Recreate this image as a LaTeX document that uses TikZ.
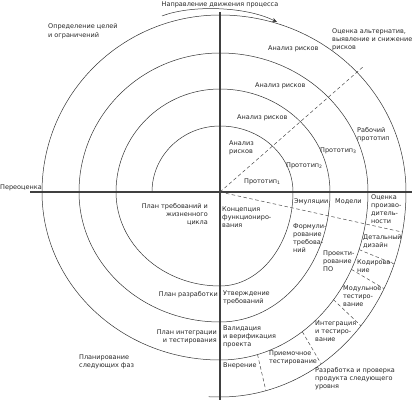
\documentclass[tikz,border=0pt]{standalone}
\usepackage{fontspec}
\setmainfont{DejaVu Sans}
\usetikzlibrary{arrows.meta}
\begin{document}
\begin{tikzpicture}[x=1pt,y=1pt,
  lbl/.style={font=\fontsize{6.5}{8.3}\selectfont, inner sep=0pt, align=left, anchor=base west, text=black!85},
  lblr/.style={font=\fontsize{6.5}{8.3}\selectfont, inner sep=0pt, align=right, anchor=base east, text=black!85},
  spir/.style={line width=0.5pt, black!80},
  axisline/.style={line width=1.1pt, black!75},
  dsh/.style={line width=0.5pt, black!70, dash pattern=on 3.5pt off 2.5pt}]
\useasboundingbox (0,0) rectangle (412,400);
\coordinate (C) at (220,208);
% axes
\coordinate (hl) at (30,208);  \coordinate (hr) at (412,208);
\coordinate (vt) at (220,388); \coordinate (vb) at (220,0);
\draw[axisline] (hl) -- (hr);
\draw[axisline] (vt) -- (vb);
% spiral
\draw[spir] (152,208)
  arc[start angle=180,end angle=90,x radius=68pt,y radius=66pt]
  arc[start angle=90,end angle=0,x radius=73pt,y radius=66pt]
  arc[start angle=0,end angle=-90,x radius=73pt,y radius=94pt]
  arc[start angle=-90,end angle=-180,x radius=104pt,y radius=94pt]
  arc[start angle=180,end angle=90,x radius=104pt,y radius=103pt]
  arc[start angle=90,end angle=0,x radius=110pt,y radius=103pt]
  arc[start angle=0,end angle=-90,x radius=110pt,y radius=130pt]
  arc[start angle=-90,end angle=-180,x radius=141pt,y radius=130pt]
  arc[start angle=180,end angle=90,x radius=141pt,y radius=139pt]
  arc[start angle=90,end angle=0,x radius=148pt,y radius=139pt]
  arc[start angle=0,end angle=-90,x radius=148pt,y radius=168pt]
  arc[start angle=-90,end angle=-180,x radius=178pt,y radius=168pt]
  arc[start angle=180,end angle=90,x radius=178pt,y radius=177pt]
  arc[start angle=90,end angle=0,x radius=186pt,y radius=177pt]
  arc[start angle=0,end angle=-90,x radius=186pt,y radius=205pt]
  arc[start angle=-90,end angle=-93,x radius=215pt,y radius=205pt];
% direction arrow
\coordinate (ar0) at (162,384); \coordinate (ar1) at (277,378);
\draw[spir, -{Stealth[length=5pt,width=4pt]}] (ar0) .. controls (190,395) and (245,394) .. (ar1);
% dashed lines
\coordinate (d1) at (364,334); \coordinate (d2) at (402,168);
\draw[dsh] (C) -- (d1);
\draw[dsh] (C) -- (d2);
\draw[dsh] (359,150.4) -- (394,136);
\draw[dsh] (351.4,130.6) -- (384,111.4);
\draw[dsh] (333.5,100.3) -- (360.9,74.2);
\draw[dsh] (302.3,68.3) -- (321.2,36.1);
\draw[dsh] (257.5,45.5) -- (265.9,9.3);
% labels (anchor = baseline of the last line)
\node[lbl, anchor=base] (t0) at (220,393) {Направление движения процесса};
\node[lbl] (t1) at (48,362.7) {Определение целей\\и ограничений};
\node[lbl] (t2) at (332,350.4) {Оценка альтернатив,\\выявление и снижение\\рисков};
\node[lbl] (t3) at (268,349) {Анализ рисков};
\node[lbl] (t4) at (255,313) {Анализ рисков};
\node[lbl] (t5) at (237,280.5) {Анализ рисков};
\node[lbl] (t6) at (229,246.7) {Анализ\\рисков};
\node[lbl] (t7) at (244,217) {Прототип\textsubscript{1}};
\node[lbl] (t8) at (286,233) {Прототип\textsubscript{2}};
\node[lbl] (t9) at (320,248) {Прототип\textsubscript{3}};
\node[lbl] (t10) at (357,259.7) {Рабочий\\прототип};
\node[lbl] (t11) at (0,211) {Переоценка};
\node[lblr] (t12) at (208,175.4) {План требований и\\жизненного\\цикла};
\node[lbl] (t13) at (222,172.4) {Концепция\\функциониро-\\вания};
\node[lbl] (t14) at (294,197) {Эмуляции};
\node[lbl] (t15) at (335,197) {Модели};
\node[lbl] (t16) at (371,176.1) {Оценка\\произво-\\дитель-\\ности};
\node[lbl] (t17) at (293,147.1) {Формули-\\рование\\требова-\\ний};
\node[lbl] (t18) at (323,128.4) {Проекти-\\рование\\ПО};
\node[lbl] (t19) at (363,152.7) {Детальный\\дизайн};
\node[lbl] (t20) at (357,127.7) {Кодирова-\\ние};
\node[lbl] (t21) at (343,93.4) {Модульное\\тестиро-\\вание};
\node[lbl] (t22) at (315,58.4) {Интеграция\\и тестиро-\\вание};
\node[lbl] (t23) at (269,36.7) {Приемочное\\тестирование};
\node[lbl] (t24) at (315,11.4) {Разработка и проверка\\продукта следующего\\уровня};
\node[lbl] (t25) at (223,33) {Внерение};
\node[lbl] (t26) at (223,96.7) {Утверждение\\требований};
\node[lbl] (t27) at (223,53.4) {Валидация\\и верификация\\проекта};
\node[lblr] (t28) at (218,104) {План разработки};
\node[lblr] (t29) at (217,57.7) {План интеграции\\и тестирования};
\node[lbl] (t30) at (79,32.7) {Планирование\\следующих фаз};
\end{tikzpicture}
\end{document}
